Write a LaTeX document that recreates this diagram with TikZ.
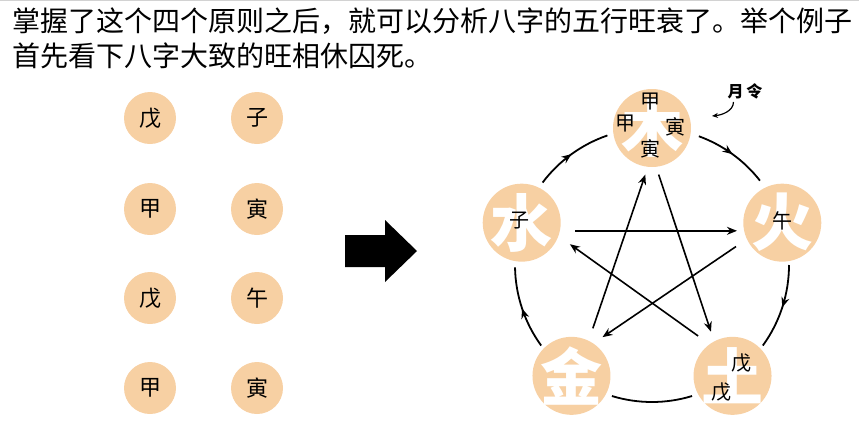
\documentclass[tikz,border=0pt]{standalone}
\usepackage{fontspec}
\setmainfont{Noto Sans CJK SC}
\usetikzlibrary{calc,arrows.meta,decorations.markings}
\definecolor{peach}{RGB}{247,208,163}

\begin{document}
\begin{tikzpicture}[x=1pt,y=1pt,
	pillar/.style={circle,fill=peach,minimum size=52pt,inner sep=0pt,font=\fontsize{22}{22}\selectfont},
	element/.style={circle,fill=peach,minimum size=78pt,inner sep=0pt},
	bigchar/.style={inner sep=0pt,text=white,font=\fontsize{62}{62}\selectfont\bfseries},
	stem/.style={inner sep=0pt,font=\fontsize{20}{20}\selectfont},
	ctrl/.style={-{Stealth[length=10pt,width=8pt]},line width=1.6pt},
	flow/.style={line width=1.8pt,postaction={decorate},
		decoration={markings,mark=at position 0.5 with {\arrow{Stealth[length=10pt,width=8pt]}}}}]
	\def \R {137}
	\useasboundingbox (0,0) rectangle (859,-424);
	\draw[gray!35] (0,-0.5) -- (859,-0.5);
	
	%title
	\node[anchor=base west,inner sep=0pt,font=\fontsize{28}{28}\selectfont] (line1) at (12,-31) {掌握了这个四个原则之后，就可以分析八字的五行旺衰了。举个例子};
	\node[anchor=base west,inner sep=0pt,font=\fontsize{28}{28}\selectfont] (line2) at (12,-66) {首先看下八字大致的旺相休囚死。};
	
	%four pillars
	\node[pillar] (year-stem) at (150,-118) {戊};
	\node[pillar] (year-branch) at (257,-118) {子};
	\node[pillar] (month-stem) at (150,-209) {甲};
	\node[pillar] (month-branch) at (257,-209) {寅};
	\node[pillar] (day-stem) at (150,-298) {戊};
	\node[pillar] (day-branch) at (257,-298) {午};
	\node[pillar] (hour-stem) at (150,-388) {甲};
	\node[pillar] (hour-branch) at (257,-388) {寅};
	
	%big arrow
	\fill (345,-235) -- (385,-235) -- (385,-220) -- (417,-251) -- (385,-282) -- (385,-267) -- (345,-267) -- cycle;
	
	%five elements
	\coordinate (C) at (652,-265);
	\node[element,label={[bigchar]center:木}] (mu) at ($(C)+(90:\R)$) {};
	\node[element,label={[bigchar]center:火}] (huo) at ($(C)+(18:\R)$) {};
	\node[element,label={[bigchar]center:土}] (tu) at ($(C)+(-54:\R)$) {};
	\node[element,label={[bigchar]center:金}] (jin) at ($(C)+(-126:\R)$) {};
	\node[element,label={[bigchar]center:水}] (shui) at ($(C)+(162:\R)$) {};
	
	%stems and branches
	\node[stem] (mu-top) at ($(mu)+(-2,26)$) {甲};
	\node[stem] (mu-left) at ($(mu)+(-27,4)$) {甲};
	\node[stem] (mu-right) at ($(mu)+(23,1)$) {寅};
	\node[stem] (mu-bottom) at ($(mu)+(-2,-21)$) {寅};
	\node[stem] (shui-zi) at ($(shui)+(-2,2)$) {子};
	\node[stem] (huo-wu) at ($(huo)+(0,2)$) {午};
	\node[stem] (tu-upper) at ($(tu)+(9,13)$) {戊};
	\node[stem] (tu-lower) at ($(tu)+(-11,-16)$) {戊};
	
	%generating cycle
	\draw[flow] ($(C)+(70:\R)$) arc[start angle=70,end angle=38,radius=\R];
	\draw[flow] ($(C)+(0:\R)$) arc[start angle=0,end angle=-36,radius=\R];
	\draw[line width=1.8pt] ($(C)+(253:\R)$) arc[start angle=253,end angle=287,radius=\R];
	\draw[flow] ($(C)+(216:\R)$) arc[start angle=216,end angle=181,radius=\R];
	\draw[flow] ($(C)+(143:\R)$) arc[start angle=143,end angle=109,radius=\R];
	
	%controlling cycle
	\draw[ctrl,shorten <=8pt,shorten >=10pt] (mu.-84) -- (tu.118);
	\draw[ctrl,shorten <=13pt,shorten >=8pt] (jin.64) -- (mu.-96);
	\draw[ctrl,shorten <=15pt,shorten >=7pt] (shui.-12) -- (huo.192);
	\draw[ctrl,shorten <=13pt,shorten >=11pt] (huo.205) -- (jin.56);
	\draw[ctrl,shorten <=14pt,shorten >=14pt] (tu.126) -- (shui.-20);
	
	%month branch note
	\node[inner sep=0pt,font=\fontsize{16}{16}\selectfont\bfseries] (yueling) at (745,-91) {月\,令};
	\coordinate (yueling-tip) at (712,-116);
	\draw[-{Stealth[length=6pt,width=5pt]},line width=1.2pt] ([xshift=6pt,yshift=-3pt]yueling.south west) .. controls +(0,-9) and +(10,1) .. (yueling-tip);
\end{tikzpicture}
\end{document}
